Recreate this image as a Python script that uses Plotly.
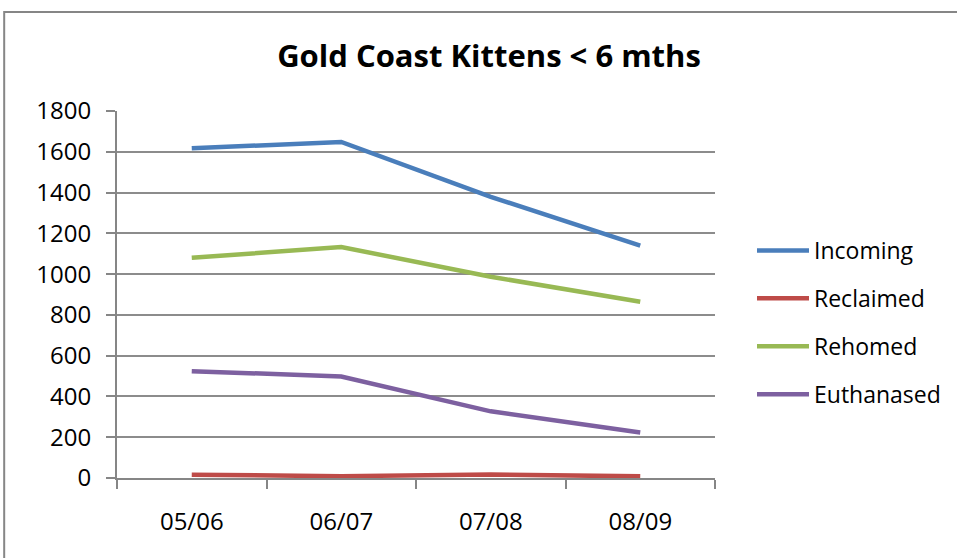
import plotly.graph_objects as go

categories = ["05/06", "06/07", "07/08", "08/09"]
incoming = [1617, 1648, 1379, 1140]
reclaimed = [16, 9, 17, 8]
rehomed = [1080, 1133, 987, 864]
euthanased = [524, 498, 327, 223]
series_names = ["Incoming", "Reclaimed", "Rehomed", "Euthanased"]
series_colors = ["#4A7EBB", "#BE4B48", "#98B954", "#7D60A0"]
y_ticks = [0, 200, 400, 600, 800, 1000, 1200, 1400, 1600, 1800]

fig = go.Figure()
for i, (name, vals, col) in enumerate(zip(series_names, [incoming, reclaimed, rehomed, euthanased], series_colors)):
    fig.add_trace(go.Scatter(x=categories, y=vals, mode="lines", name=name,
                             line=dict(color=col, width=4.5), legendgroup=str(i)))

L, R, T, B = 117, 716, 111, 478
W, H = 957, 558
fig.update_layout(
    width=W, height=H,
    margin=dict(l=L, r=W - R, t=T, b=H - B, pad=0),
    paper_bgcolor="white", plot_bgcolor="white",
    font=dict(family="Open Sans, Liberation Sans, sans-serif", color="black"),
    title=dict(text="<b>Gold Coast Kittens < 6 mths</b>", x=(489) / W, xanchor="center",
               y=1 - 56 / H, yanchor="middle", font=dict(size=31, family="Open Sans")),
    legend=dict(x=(752 - L) / (R - L), xanchor="left", y=(478 - 229) / (B - T), yanchor="top",
                font=dict(size=23), tracegroupgap=15, traceorder="grouped", itemwidth=52,
                bgcolor="rgba(0,0,0,0)"),
    showlegend=True,
)
fig.update_xaxes(type="category", range=[-0.5, 3.5], showgrid=False, showline=True,
                 linecolor="#868686", linewidth=2, ticks="outside", tickson="boundaries",
                 ticklen=9, tickcolor="#868686", tickwidth=2, tickfont=dict(size=24),
                 ticklabelstandoff=21)
fig.update_yaxes(range=[0, 1800], tickvals=y_ticks, showgrid=True, gridcolor="#8C8C8C",
                 gridwidth=1.5, showline=True, linecolor="#868686", linewidth=2,
                 ticks="outside", ticklen=9, tickcolor="#868686", tickwidth=2,
                 tickfont=dict(size=24), zeroline=False, ticklabelstandoff=10)

fig.add_shape(type="rect", xref="paper", yref="paper",
              x0=(4 - L) / (R - L), x1=(962 - L) / (R - L),
              y0=(B - 570) / (B - T), y1=(B - 12) / (B - T),
              line=dict(color="#868686", width=2), layer="below")

fig.write_html("out.html")
